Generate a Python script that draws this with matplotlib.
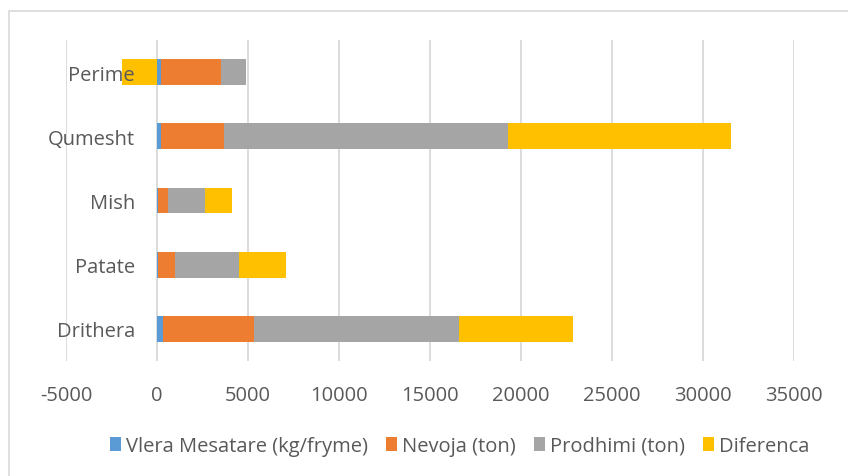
#!/usr/bin/env python3
# -*- coding: utf-8 -*-

import numpy as np
import matplotlib
matplotlib.use("Agg")
import matplotlib.pyplot as plt
from matplotlib.patches import Rectangle

# data (bottom row first)
categories = ["Drithera", "Patate", "Mish", "Qumesht", "Perime"]
vlera = [310, 60, 30, 220, 200]
nevoja = [5000, 950, 570, 3440, 3300]
prodhimi = [11280, 3520, 2030, 15650, 1370]
diferenca = [6280, 2540, 1470, 12210, -1950]

series = [("Vlera Mesatare (kg/fryme)", vlera, "#5B9BD5"),
          ("Nevoja (ton)", nevoja, "#ED7D31"),
          ("Prodhimi (ton)", prodhimi, "#A5A5A5"),
          ("Diferenca", diferenca, "#FFC000")]

xticks = list(range(-5000, 35001, 5000))

plt.rcParams['font.family'] = ['Open Sans', 'DejaVu Sans']
plt.rcParams['axes.unicode_minus'] = False
txt = "#595959"

fig = plt.figure(figsize=(8.48, 4.77), dpi=100)
ax = fig.add_axes([66 / 848, 1 - 362 / 477, 728 / 848, 321 / 477])

# chart border (only left and top edges are inside the picture)
fig.patches.append(Rectangle((9 / 848, -0.1), 1.2, 1 - 12 / 477 + 0.1,
                             transform=fig.transFigure, fill=False,
                             edgecolor="#D9D9D9", lw=1.2))

y = np.arange(len(categories))
pos = np.zeros(len(categories))
neg = np.zeros(len(categories))
for name, vals, col in series:
    v = np.array(vals, dtype=float)
    left = np.where(v >= 0, pos, neg)
    ax.barh(y, v, left=left, height=0.4, color=col, label=name, zorder=1)
    pos = pos + np.clip(v, 0, None)
    neg = neg + np.clip(v, None, 0)

ax.vlines(xticks, -0.5, len(categories) - 0.5, color="#D9D9D9", lw=1.3, zorder=0)

ax.set_xlim(-5000, 35000)
ax.set_ylim(-0.5, len(categories) - 0.5)
ax.set_xticks(xticks)
ax.set_yticks(y)
ax.set_yticklabels(categories)

for s in ax.spines.values():
    s.set_visible(False)
ax.spines['left'].set_position(('data', 0))
ax.yaxis.set_zorder(5)

ax.tick_params(axis='x', length=0, pad=17, labelsize=14.5, labelcolor=txt)
ax.tick_params(axis='y', length=0, pad=16, labelsize=14.5, labelcolor=txt)

fig.legend(loc="center", bbox_to_anchor=(0.542, 1 - 447 / 477), ncol=4,
           frameon=False, fontsize=14.5, labelcolor=txt,
           handlelength=0.55, handleheight=0.7, handletextpad=0.25,
           columnspacing=0.9)

fig.savefig("out.png", dpi=100)
